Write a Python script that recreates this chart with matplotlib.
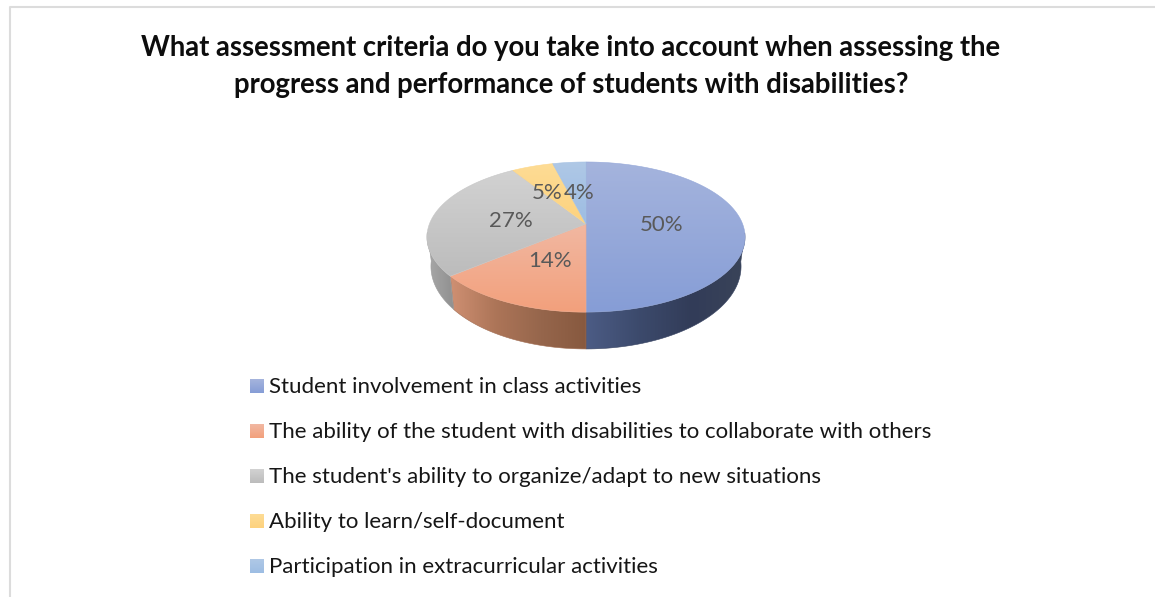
import numpy as np
import matplotlib
matplotlib.use('Agg')
import matplotlib.pyplot as plt
from matplotlib.colors import LinearSegmentedColormap
from matplotlib.patches import Polygon

title_lines = ['What assessment criteria do you take into account when assessing the',
               'progress and performance of students with disabilities?']
categories = ['Student involvement in class activities',
              'The ability of the student with disabilities to collaborate with others',
              "The student's ability to organize/adapt to new situations",
              'Ability to learn/self-document',
              'Participation in extracurricular activities']
values = [50, 14, 27, 5, 4]

# top face colours, far edge then near edge of each slice
top_light = ['#a5b4dd', '#f1b8a2', '#d2d2d2', '#fedc95', '#afc8e6']
top_deep = ['#869dd6', '#f3a07c', '#bcbcbc', '#fdd27e', '#9dbde3']
# side wall colours, left to right
side_stops = [['#4c5c85', '#3c4a6c', '#323c58', '#3a4459'],
              ['#cf9073', '#ad7558', '#96664c', '#87593f'],
              ['#a8a8a8', '#a0a0a0', '#989898', '#909090'],
              ['#a08040', '#a08040', '#a08040', '#a08040'],
              ['#607890', '#607890', '#607890', '#607890']]
label_xy = [(662, 225), (550, 261), (511, 221), (547, 193), (579, 193)]
legend_y = [386, 431, 476, 521, 566]

# pie geometry in pixels, with a simple perspective tilt
cx, cy = 586, 224
rx, ry, tilt = 156.6, 72.8, 0.174


def rim(angle):
    # angle in radians, clockwise from twelve o'clock
    u, v = np.sin(angle), np.cos(angle)
    w = 1 + tilt * v
    return rx * u / w, -ry * v / w


def gradient(ax, colors, poly_xy, horizontal):
    cmap = LinearSegmentedColormap.from_list('g', colors)
    x0, y0 = poly_xy.min(axis=0)
    x1, y1 = poly_xy.max(axis=0)
    grad = np.linspace(0, 1, 256)
    grad = grad[None, :] if horizontal else grad[:, None]
    im = ax.imshow(grad, cmap=cmap, extent=(x0, x1, y1, y0), origin='upper',
                   aspect='auto', interpolation='bilinear', zorder=2)
    patch = Polygon(poly_xy, closed=True, transform=ax.transData)
    im.set_clip_path(patch)
    # soft outline so the clipped edge is not jagged
    ax.add_patch(Polygon(poly_xy, closed=True, fill=False, edgecolor=cmap(0.5),
                         linewidth=0.4, zorder=2))


fig = plt.figure(figsize=(11.55, 5.97), dpi=100)
ax = fig.add_axes([0, 0, 1, 1])
ax.set_xlim(0, 1155)
ax.set_ylim(597, 0)
ax.axis('off')

# chart frame, open on the right and bottom
ax.plot([9.5, 9.5, 1155], [597, 6.5, 6.5], color='#dcdcdc', lw=1.5, zorder=1)

plt.rcParams['font.family'] = ['Lato', 'DejaVu Sans']
for line, y in zip(title_lines, [48, 85]):
    ax.text(571, y, line, ha='center', va='center', fontsize=19.8,
            fontweight='bold', color='#0d0d0d')

edges = np.cumsum([0] + values) / sum(values) * 2 * np.pi

# side walls first, only the part of the rim that faces the viewer
for i in range(len(values)):
    a = np.linspace(edges[i], edges[i + 1], 200)
    x, y = rim(a)
    keep = y > 8
    if keep.sum() < 2:
        continue
    x, y = x[keep], y[keep]
    low_x, low_y = x * 0.975, 1.1 * y + 28
    pts = np.column_stack([np.r_[x, low_x[::-1]] + cx, np.r_[y, low_y[::-1]] + cy])
    gradient(ax, side_stops[i], pts, True)

for i in range(len(values)):
    a = np.linspace(edges[i], edges[i + 1], 200)
    x, y = rim(a)
    pts = np.column_stack([np.r_[0, x] + cx, np.r_[0, y] + cy])
    gradient(ax, [top_light[i], top_deep[i]], pts, False)

for v, (lx, ly) in zip(values, label_xy):
    ax.text(lx, ly, f'{v}%', ha='center', va='center', fontsize=16, color='#595959', zorder=4)

for i, (name, y) in enumerate(zip(categories, legend_y)):
    ax.imshow(np.linspace(0, 1, 32)[:, None],
              cmap=LinearSegmentedColormap.from_list('s', [top_light[i], top_deep[i]]),
              extent=(250, 264, y + 7, y - 7), aspect='auto', zorder=2)
    ax.text(269, y + 1, name, ha='left', va='center', fontsize=16, color='#161616')

ax.set_xlim(0, 1155)
ax.set_ylim(597, 0)
fig.savefig('out.png', dpi=100)
